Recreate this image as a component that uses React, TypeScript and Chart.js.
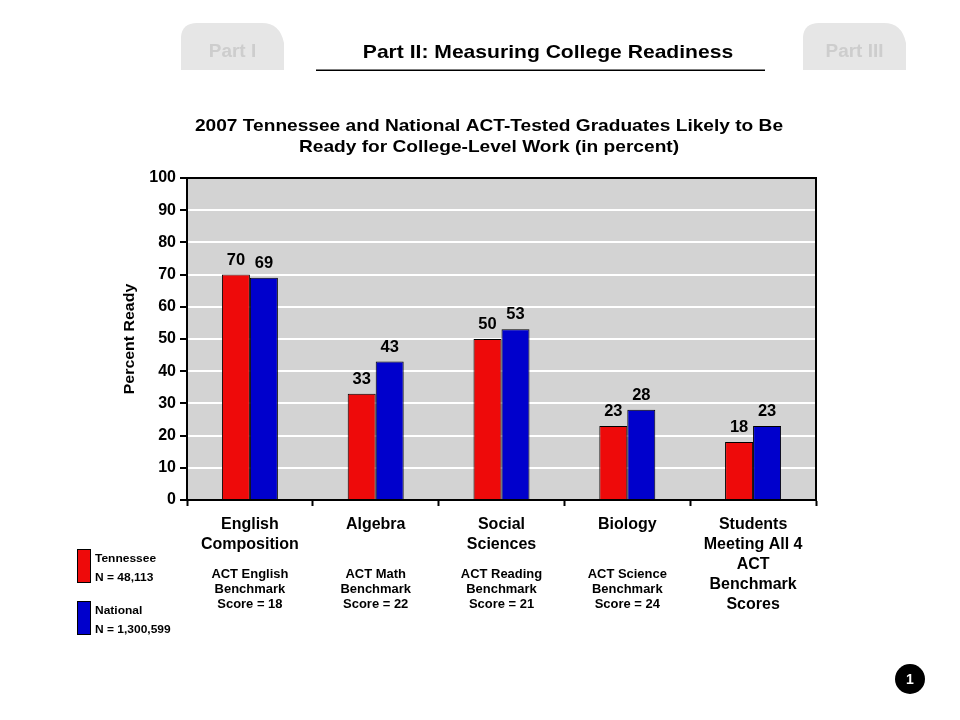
import React, { useEffect, useRef } from "react";
import { Chart, registerables } from "chart.js";
Chart.register(...registerables);

const categories: string[][] = [
  ["English", "Composition"],
  ["Algebra"],
  ["Social", "Sciences"],
  ["Biology"],
  ["Students", "Meeting All 4", "ACT", "Benchmark", "Scores"],
];
const benchmarks: string[][] = [
  ["ACT English", "Benchmark", "Score = 18"],
  ["ACT Math", "Benchmark", "Score = 22"],
  ["ACT Reading", "Benchmark", "Score = 21"],
  ["ACT Science", "Benchmark", "Score = 24"],
  [],
];
const tennessee = [70, 33, 50, 23, 18];
const national = [69, 43, 53, 28, 23];
const seriesNames = ["Tennessee", "National"];
const seriesCounts = ["N = 48,113", "N = 1,300,599"];
const seriesColors = ["#ee0a0a", "#0000cc"];
const titleLines = [
  "2007 Tennessee and National ACT-Tested Graduates Likely to Be",
  "Ready for College-Level Work (in percent)",
];
const headerTitle = "Part II: Measuring College Readiness";
const tabs = ["Part I", "Part III"];
const yAxisTitle = "Percent Ready";
const pageNumber = "1";

const FONT = "'Liberation Sans', Arial, Helvetica, sans-serif";

function sText(ctx: CanvasRenderingContext2D, t: string, x: number, y: number, sx: number) {
  ctx.save();
  ctx.translate(x, y);
  ctx.scale(sx, 1);
  ctx.fillText(t, 0, 0);
  ctx.restore();
}

function drawTab(ctx: CanvasRenderingContext2D, x: number, y: number, w: number, h: number, label: string) {
  ctx.save();
  ctx.fillStyle = "#e6e6e6";
  ctx.beginPath();
  ctx.moveTo(x, y + h);
  ctx.lineTo(x, y + 14);
  ctx.quadraticCurveTo(x + 1, y, x + 16, y);
  ctx.lineTo(x + w - 22, y);
  ctx.quadraticCurveTo(x + w - 4, y, x + w, y + 20);
  ctx.lineTo(x + w, y + h);
  ctx.closePath();
  ctx.fill();
  ctx.fillStyle = "#cdcdcd";
  ctx.font = `bold 18px ${FONT}`;
  ctx.textAlign = "center";
  ctx.textBaseline = "middle";
  sText(ctx, label, x + w / 2, y + 29, 1.05);
  ctx.restore();
}

const decorPlugin = {
  id: "decor",
  beforeDraw(chart: any) {
    const { ctx, chartArea: a } = chart;
    ctx.save();
    ctx.fillStyle = "#d3d3d3";
    ctx.fillRect(a.left, a.top, a.right - a.left, a.bottom - a.top);
    ctx.restore();
  },
  afterDraw(chart: any) {
    const { ctx, chartArea: a } = chart;
    const xs = chart.scales.x;
    ctx.save();
    // plot border
    ctx.strokeStyle = "#000";
    ctx.lineWidth = 2;
    ctx.strokeRect(a.left, a.top, a.right - a.left, a.bottom - a.top);

    // value labels
    ctx.fillStyle = "#000";
    ctx.font = `bold 16px ${FONT}`;
    ctx.textAlign = "center";
    ctx.textBaseline = "alphabetic";
    chart.data.datasets.forEach((ds: any, di: number) => {
      const meta = chart.getDatasetMeta(di);
      meta.data.forEach((bar: any, i: number) => {
        sText(ctx, String(ds.data[i]), bar.x, bar.y - 10, 1.03);
      });
    });

    // benchmark subtexts
    ctx.font = `bold 12px ${FONT}`;
    ctx.textBaseline = "middle";
    benchmarks.forEach((lines, i) => {
      const cx = xs.getPixelForValue(i);
      lines.forEach((l, j) => sText(ctx, l, cx, 575 + j * 15, 1.08));
    });

    // main title
    ctx.font = `bold 17px ${FONT}`;
    titleLines.forEach((l, j) => sText(ctx, l, 489, 126 + j * 21, 1.125));

    // y axis title
    ctx.save();
    ctx.translate(130, (a.top + a.bottom) / 2);
    ctx.rotate(-Math.PI / 2);
    ctx.font = `bold 15px ${FONT}`;
    sText(ctx, yAxisTitle, 0, 0, 1.06);
    ctx.restore();

    // header
    drawTab(ctx, 181, 23, 103, 47, tabs[0]);
    drawTab(ctx, 803, 23, 103, 47, tabs[1]);
    ctx.fillStyle = "#000";
    ctx.font = `bold 19px ${FONT}`;
    ctx.textAlign = "center";
    sText(ctx, headerTitle, 548, 53, 1.11);
    ctx.fillRect(316, 69.5, 449, 1.5);

    // legend
    const legendTops = [549, 601];
    seriesNames.forEach((name, i) => {
      const t = legendTops[i];
      ctx.fillStyle = seriesColors[i];
      ctx.fillRect(77, t, 14, 34);
      ctx.strokeStyle = "#000";
      ctx.lineWidth = 1;
      ctx.strokeRect(77.5, t + 0.5, 13, 33);
      ctx.fillStyle = "#000";
      ctx.font = `bold 11px ${FONT}`;
      ctx.textAlign = "left";
      sText(ctx, name, 95, t + 10, 1.09);
      sText(ctx, seriesCounts[i], 95, t + 29, 1.09);
    });

    // page number
    ctx.beginPath();
    ctx.arc(910, 679, 15, 0, Math.PI * 2);
    ctx.fillStyle = "#000";
    ctx.fill();
    ctx.fillStyle = "#fff";
    ctx.font = `bold 14px ${FONT}`;
    ctx.textAlign = "center";
    ctx.fillText(pageNumber, 910, 680);
    ctx.restore();
  },
};

export default function App() {
  const ref = useRef<HTMLCanvasElement>(null);
  useEffect(() => {
    document.body.style.margin = "0";
    const chart = new Chart(ref.current!, {
      type: "bar",
      data: {
        labels: categories,
        datasets: [
          {
            label: seriesNames[0],
            data: tennessee,
            backgroundColor: seriesColors[0],
            borderColor: "#000",
            borderWidth: 1,
            categoryPercentage: 0.445,
            barPercentage: 1,
          },
          {
            label: seriesNames[1],
            data: national,
            backgroundColor: seriesColors[1],
            borderColor: "#000",
            borderWidth: 1,
            categoryPercentage: 0.445,
            barPercentage: 1,
          },
        ],
      },
      options: {
        animation: false,
        responsive: false,
        devicePixelRatio: 1,
        layout: { padding: { left: 0, top: 178, right: 144, bottom: 0 } },
        plugins: { legend: { display: false }, title: { display: false }, tooltip: { enabled: false } },
        scales: {
          y: {
            min: 0,
            max: 100,
            ticks: { stepSize: 10, color: "#000", font: { family: FONT, size: 16, weight: "bold" }, padding: 4 },
            grid: { color: "#fff", lineWidth: 2, tickColor: "#000", tickLength: 7, tickWidth: 2 },
            border: { display: true, color: "#000", width: 2 },
            afterFit: (s: any) => { s.width = 187; },
          },
          x: {
            ticks: { color: "#000", font: { family: FONT, size: 16, weight: "bold", lineHeight: 1.25 }, padding: 9, maxRotation: 0, autoSkip: false },
            grid: { drawOnChartArea: false, tickColor: "#000", tickLength: 6, tickWidth: 2 },
            border: { display: true, color: "#000", width: 2 },
            afterFit: (s: any) => { s.height = 220; },
          },
        },
      } as any,
      plugins: [decorPlugin],
    });
    return () => chart.destroy();
  }, []);
  return (
    <div style={{ width: 960, height: 720, background: "#fff" }}>
      <canvas ref={ref} width={960} height={720} style={{ display: "block" }} />
    </div>
  );
}
